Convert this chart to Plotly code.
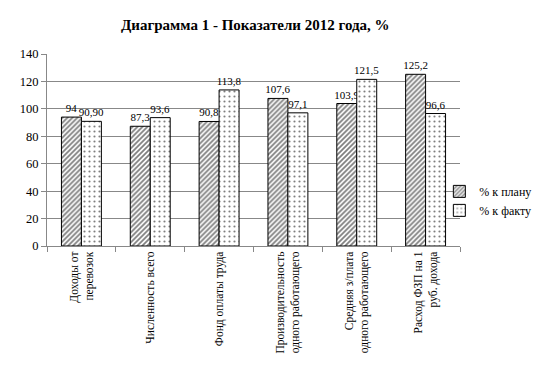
import plotly.graph_objects as go

categories = ["Доходы от<br>перевозок", "Численность всего", "Фонд оплаты труда",
              "Производительность<br>одного работающего", "Средняя з/плата<br>одного работающего",
              "Расход ФЗП на 1<br>руб. дохода"]
plan = [94, 87.3, 90.8, 107.6, 103.9, 125.2]
fact = [90.9, 93.6, 113.8, 97.1, 121.5, 96.6]
plan_labels = ["94", "87,3", "90,8", "107,6", "103,9", "125,2"]
fact_labels = ["90,90", "93,6", "113,8", "97,1", "121,5", "96,6"]
yticks = [0, 20, 40, 60, 80, 100, 120, 140]

FONT = "Times New Roman"

fig = go.Figure()
fig.add_trace(go.Bar(
    x=categories, y=plan, name="% к плану", text=plan_labels,
    textposition="outside", cliponaxis=False, constraintext="none",
    textfont=dict(family=FONT, size=11, color="#000"),
    marker=dict(color="white", line=dict(color="black", width=1),
                pattern=dict(shape="/", fgcolor="black", bgcolor="white", size=3.5, solidity=0.5)),
))
fig.add_trace(go.Bar(
    x=categories, y=fact, name="% к факту", text=fact_labels,
    textposition="outside", cliponaxis=False, constraintext="none",
    textfont=dict(family=FONT, size=11, color="#000"),
    marker=dict(color="white", line=dict(color="black", width=1),
                pattern=dict(shape=".", fgcolor="black", bgcolor="white", size=5, solidity=0.15)),
))

fig.update_layout(
    width=541, height=368,
    margin=dict(l=39, r=89, t=46, b=130, autoexpand=False),
    paper_bgcolor="white", plot_bgcolor="white",
    barmode="group", bargap=0.42, bargroupgap=0,
    font=dict(family=FONT, size=12, color="#000"),
    showlegend=True,
    legend=dict(x=0.95, y=0.235, xanchor="left", yanchor="middle",
                font=dict(family=FONT, size=12), itemwidth=30, tracegroupgap=4,
                bgcolor="rgba(0,0,0,0)"),
    annotations=[dict(text="<b>Диаграмма 1 - Показатели 2012 года, %</b>",
                      xref="paper", yref="paper", x=0.504, y=1.10, xanchor="center",
                      yanchor="bottom", showarrow=False,
                      font=dict(family=FONT, size=15, color="#000"))],
)
fig.update_yaxes(range=[0, 140], tickvals=yticks, showgrid=True, gridcolor="#888",
                 gridwidth=1, showline=True, linecolor="#888", ticks="outside",
                 ticklen=5, tickcolor="#888", zeroline=False, automargin=False,
                 tickfont=dict(family=FONT, size=12.5))
fig.update_xaxes(showline=True, linecolor="#888", ticks="outside", ticklen=5,
                 tickcolor="#888", tickson="boundaries", tickangle=-90, automargin=False,
                 tickfont=dict(family=FONT, size=11.5))

fig.write_html("out.html")
